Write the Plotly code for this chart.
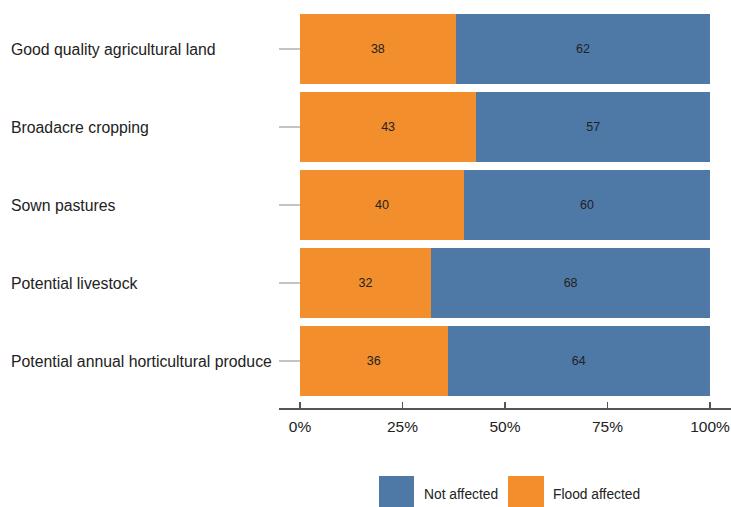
import plotly.graph_objects as go

categories = [
    "Good quality agricultural land",
    "Broadacre cropping",
    "Sown pastures",
    "Potential livestock",
    "Potential annual horticultural produce",
]
flood_affected = [38, 43, 40, 32, 36]
not_affected = [62, 57, 60, 68, 64]
x_ticks = [0, 25, 50, 75, 100]
x_tick_labels = ["0%", "25%", "50%", "75%", "100%"]

ORANGE = "#F28E2B"
BLUE = "#4E79A7"
W, H = 731, 507
P_LEFT, P_RIGHT, P_TOP, P_BOTTOM = 279, 731, 10, 408
ML, MR, MT, MB = P_LEFT, W - P_RIGHT, P_TOP, H - P_BOTTOM
PW, PH = W - ML - MR, H - MT - MB
FONT = "Liberation Sans, Arial"

def px_x(p):
    return (p - ML) / PW

def px_y(p):
    return (H - MB - p) / PH

fig = go.Figure()
for name, vals, col in [("Flood affected", flood_affected, ORANGE),
                        ("Not affected", not_affected, BLUE)]:
    fig.add_trace(go.Bar(
        y=categories, x=vals, name=name, orientation="h",
        marker=dict(color=col, line=dict(width=0)),
        text=[str(v) for v in vals], textposition="inside",
        insidetextanchor="middle", textangle=0,
        textfont=dict(family=FONT, size=12.5, color="#222"),
        showlegend=False, hoverinfo="skip",
    ))

annotations = []
for c in categories:
    annotations.append(dict(
        x=px_x(9), xref="paper", y=c, yref="y", text=c, showarrow=False,
        xanchor="left", yanchor="middle",
        font=dict(family=FONT, size=15.8, color="#222"),
    ))

shapes = []
legend_items = [("Not affected", BLUE, 379, 414, 422), ("Flood affected", ORANGE, 508, 544, 551)]
for name, col, x0, x1, tx in legend_items:
    shapes.append(dict(type="rect", xref="paper", yref="paper",
                       x0=px_x(x0), x1=px_x(x1), y0=px_y(507), y1=px_y(476),
                       fillcolor=col, line=dict(width=0)))
    annotations.append(dict(
        x=px_x(tx), xref="paper", y=px_y(494), yref="paper", text=name,
        showarrow=False, xanchor="left", yanchor="middle",
        font=dict(family=FONT, size=13.8, color="#222"),
    ))

fig.update_layout(
    barmode="stack", bargap=0.1,
    width=W, height=H,
    margin=dict(l=ML, r=MR, t=MT, b=MB, pad=0),
    paper_bgcolor="white", plot_bgcolor="white",
    annotations=annotations, shapes=shapes,
    hovermode=False,
    xaxis=dict(
        range=[-5.12, 105.12], tickvals=x_ticks, ticktext=x_tick_labels,
        showgrid=False, zeroline=False, showline=True, linecolor="#555",
        linewidth=1.5, ticks="inside", ticklen=6, tickcolor="#555", tickwidth=1.5,
        tickfont=dict(family=FONT, size=15.5, color="#222"),
        ticklabelstandoff=4,
        fixedrange=True,
    ),
    yaxis=dict(
        categoryorder="array", categoryarray=categories,
        range=[4.6, -0.5], showticklabels=False, showgrid=False,
        zeroline=False, showline=False, ticks="inside", ticklen=21,
        tickcolor="#c4c4c4", tickwidth=1.5, fixedrange=True,
    ),
)

fig.write_html(
    "out.html",
    config={"displayModeBar": False, "staticPlot": True},
    post_script="document.body.style.margin='0px';document.body.style.overflow='hidden';",
)
